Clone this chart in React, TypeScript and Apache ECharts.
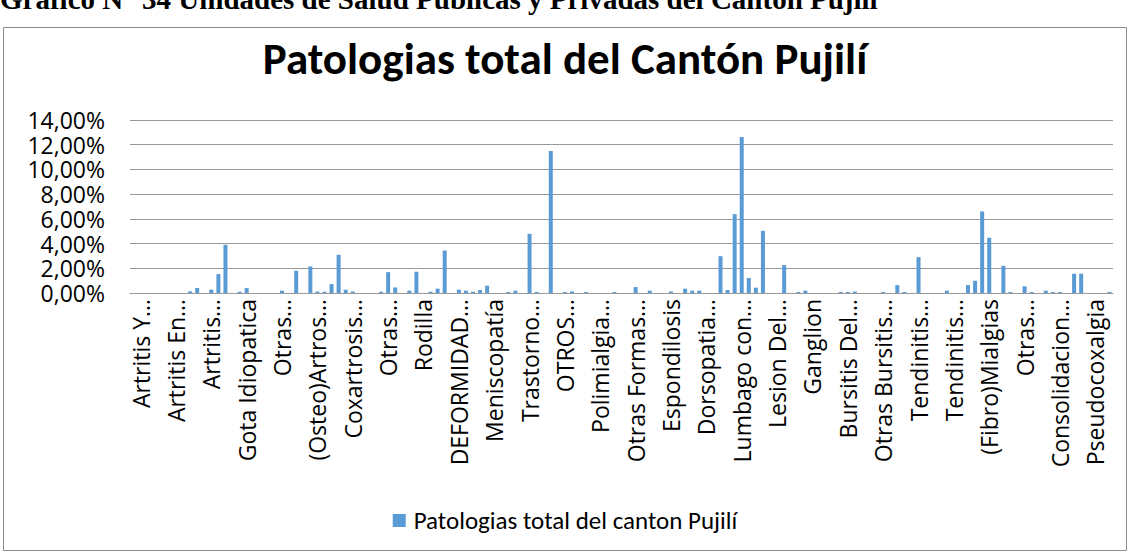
import React, { useEffect, useRef } from "react";
import * as echarts from "echarts";

const FONT = "Carlito, Calibri, Lato, sans-serif";
const AXIS_FONT = "'Open Sans', Lato, sans-serif";

const visibleLabels: string[] = [
  "Artritis Y…", "Artritis En…", "Artritis…", "Gota Idiopatica", "Otras…",
  "(Osteo)Artros…", "Coxartrosis…", "Otras…", "Rodilla", "DEFORMIDAD…",
  "Meniscopatía", "Trastorno…", "OTROS…", "Polimialgia…", "Otras Formas…",
  "Espondilosis", "Dorsopatia…", "Lumbago con…", "Lesion Del…", "Ganglion",
  "Bursitis Del…", "Otras Bursitis…", "Tendinitis…", "Tendinitis…", "(Fibro)Mialgias",
  "Otras…", "Consolidacion…", "Pseudocoxalgia",
];

// percentage values (139 categories)
const values: number[] = [
  0, 0, 0, 0, 0, 0, 0, 0, 0.13, 0.4,
  0, 0.27, 1.53, 3.9, 0, 0.1, 0.4, 0, 0, 0,
  0, 0.19, 0, 1.8, 0, 2.15, 0.12, 0.1, 0.72, 3.09,
  0.27, 0.12, 0, 0, 0, 0.1, 1.69, 0.45, 0, 0.19,
  1.72, 0, 0.1, 0.35, 3.44, 0, 0.27, 0.19, 0.1, 0.24,
  0.59, 0, 0, 0.08, 0.19, 0, 4.79, 0.08, 0, 11.5,
  0, 0.08, 0.12, 0, 0.08, 0, 0, 0, 0.08, 0,
  0, 0.48, 0, 0.19, 0, 0, 0.12, 0, 0.35, 0.19,
  0.19, 0, 0, 2.98, 0.24, 6.38, 12.63, 1.21, 0.43, 5.03,
  0, 0, 2.26, 0, 0.08, 0.19, 0, 0, 0, 0,
  0.08, 0.08, 0.12, 0, 0, 0, 0.08, 0, 0.64, 0.08,
  0, 2.9, 0, 0, 0, 0.19, 0, 0, 0.64, 0.99,
  6.6, 4.47, 0, 2.2, 0.08, 0, 0.54, 0.08, 0, 0.19,
  0.08, 0.08, 0, 1.56, 1.56, 0, 0, 0, 0.08,
];

const categories: string[] = values.map((_, i) =>
  i % 5 === 1 ? visibleLabels[(i - 1) / 5] : `Patología ${i + 1}`
);

const yTicks: number[] = [0, 2, 4, 6, 8, 10, 12, 14];

const seriesName = "Patologias total del canton Pujilí";
const titleText = "Patologias total del Cantón Pujilí";
const captionText = "Gráfico N° 34 Unidades de Salud Públicas y Privadas del Cantón Pujilí";

export default function App() {
  const ref = useRef<HTMLDivElement>(null);
  useEffect(() => {
    if (!ref.current) return;
    const chart = echarts.init(ref.current, null, { renderer: "svg" });
    chart.setOption({
      animation: false,
      backgroundColor: "#ffffff",
      title: {
        text: titleText,
        left: "center",
        top: 31,
        textStyle: { fontFamily: FONT, fontSize: 45, fontWeight: "bold", color: "#000" },
      },
      graphic: [
        {
          type: "text",
          left: 0,
          top: -16,
          style: {
            text: captionText,
            font: "bold 29px 'Liberation Serif', 'Times New Roman', serif",
            fill: "#000",
          },
        },
        {
          type: "rect",
          shape: { x: 3.5, y: 27.5, width: 1123, height: 523 },
          style: { fill: "none", stroke: "#8c8c8c", lineWidth: 1 },
          silent: true,
          z: -1,
        },
      ],
      legend: {
        data: [seriesName],
        top: 503,
        left: "center",
        icon: "rect",
        itemWidth: 13,
        itemHeight: 13,
        itemGap: 8,
        textStyle: { fontFamily: FONT, fontSize: 25, color: "#000", padding: [0, 0, 0, 3] },
      },
      grid: { left: 130, right: 17, top: 120, bottom: 260, containLabel: false },
      xAxis: {
        type: "category",
        data: categories,
        axisLine: { show: true, lineStyle: { color: "#999", width: 1 } },
        axisTick: { show: false },
        axisLabel: {
          interval: (index: number) => index % 5 === 1,
          rotate: 90,
          margin: 6,
          fontFamily: AXIS_FONT,
          fontSize: 23,
          color: "#000",
        },
      },
      yAxis: {
        type: "value",
        min: yTicks[0],
        max: yTicks[yTicks.length - 1],
        interval: 2,
        axisLine: { show: false },
        axisTick: { show: false },
        splitLine: { lineStyle: { color: "#999", width: 1 } },
        axisLabel: {
          fontFamily: AXIS_FONT,
          fontSize: 23,
          color: "#000",
          margin: 25,
          formatter: (v: number) => v.toFixed(2).replace(".", ",") + "%",
        },
      },
      series: [
        {
          name: seriesName,
          type: "bar",
          data: values,
          barWidth: 4,
          itemStyle: { color: "#5B9BD5" },
        },
      ],
    });
    return () => chart.dispose();
  }, []);
  return (
    <div
      ref={ref}
      style={{ position: "fixed", left: 0, top: 0, width: 1130, height: 553 }}
    />
  );
}
